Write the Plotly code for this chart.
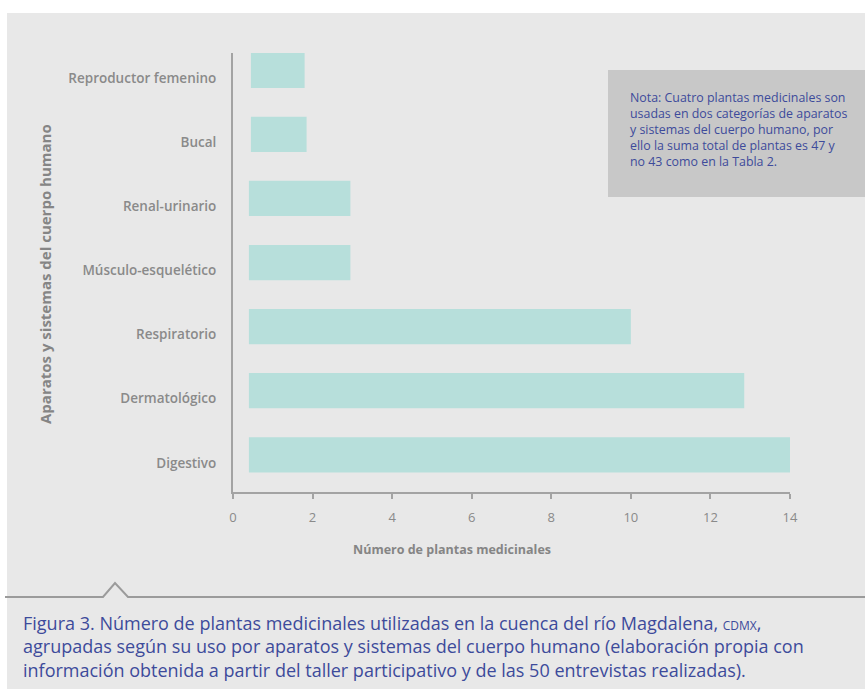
import plotly.graph_objects as go

# Categories, listed from the bottom of the chart to the top
categorias = ["Digestivo", "Dermatológico", "Respiratorio", "Músculo-esquelético",
              "Renal-urinario", "Bucal", "Reproductor femenino"]
# Number of medicinal plants (end of each bar)
num_plantas = [14, 12.85, 10, 2.95, 2.95, 1.85, 1.8]
# Bars start slightly to the right of zero
inicio_barra = [0.4, 0.4, 0.4, 0.4, 0.4, 0.45, 0.45]

x_ticks = [0, 2, 4, 6, 8, 10, 12, 14]

W, H = 865, 689
L, R, T, B = 233, 790, 53, 492  # plot area in pixels


def px(x):
    return (x - L) / (R - L)


def py(y):
    return (B - y) / (B - T)


GRIS_EJE = "#a3a3a3"
GRIS_TXT = "#8a8a8a"
AZUL = "#3d4b9b"

fig = go.Figure(
    go.Bar(
        y=categorias,
        x=[e - b for e, b in zip(num_plantas, inicio_barra)],
        base=inicio_barra,
        orientation="h",
        width=0.55,
        marker=dict(color="#b7dfdb", line=dict(width=0)),
        hoverinfo="skip",
    )
)

shapes = [
    # background panel
    dict(type="rect", xref="paper", yref="paper", layer="below",
         x0=px(7), x1=px(W + 5), y0=py(13), y1=py(H + 5),
         fillcolor="#e8e8e8", line=dict(width=0)),
    # note box
    dict(type="rect", xref="paper", yref="paper", layer="below",
         x0=px(608), x1=px(W + 5), y0=py(70), y1=py(197),
         fillcolor="#c8c8c8", line=dict(width=0)),
    # caption rule with pointer
    dict(type="path", xref="paper", yref="paper",
         path=(f"M {px(5)},{py(597)} L {px(103)},{py(597)} L {px(115)},{py(583)} "
               f"L {px(128)},{py(597)} L {px(W + 5)},{py(597)}"),
         line=dict(color="#9b9b9b", width=2)),
]

nota = ("Nota: Cuatro plantas medicinales son<br>"
        "usadas en dos categorías de aparatos<br>"
        "y sistemas del cuerpo humano, por<br>"
        "ello la suma total de plantas es 47 y<br>"
        "no 43 como en la Tabla 2.")

leyenda = ("Figura 3. Número de plantas medicinales utilizadas en la cuenca del río Magdalena, "
           "<span style='font-size:12px'>CDMX</span>,<br>"
           "agrupadas según su uso por aparatos y sistemas del cuerpo humano (elaboración propia con<br>"
           "información obtenida a partir del taller participativo y de las 50 entrevistas realizadas).")

annotations = [
    dict(text=nota, xref="paper", yref="paper", x=px(628), y=py(87),
         xanchor="left", yanchor="top", align="left", showarrow=False,
         font=dict(family="Open Sans", size=12.4, color=AZUL)),
    dict(text=leyenda, xref="paper", yref="paper", x=px(21), y=py(609),
         xanchor="left", yanchor="top", align="left", showarrow=False,
         font=dict(family="Open Sans", size=18, color=AZUL)),
    dict(text="Aparatos y sistemas del cuerpo humano", xref="paper", yref="paper",
         x=px(45), y=py(274), textangle=-90, showarrow=False,
         xanchor="center", yanchor="middle",
         font=dict(family="Open Sans", size=15, color="#858585", weight=700)),
    dict(text="Número de plantas medicinales", xref="paper", yref="paper",
         x=px(452), y=py(549), showarrow=False, xanchor="center", yanchor="middle",
         font=dict(family="Open Sans", size=12.5, color="#858585", weight=700)),
]

fig.update_layout(
    width=W, height=H,
    margin=dict(l=L, r=W - R, t=T, b=H - B, pad=0),
    paper_bgcolor="white",
    plot_bgcolor="rgba(0,0,0,0)",
    showlegend=False,
    shapes=shapes,
    annotations=annotations,
    xaxis=dict(range=[0, 14], tickvals=x_ticks, showgrid=False, zeroline=False,
               showline=True, linecolor=GRIS_EJE, linewidth=2,
               ticks="outside", ticklen=5, tickwidth=1.5, tickcolor=GRIS_EJE,
               ticklabelstandoff=7,
               tickfont=dict(family="Open Sans", size=13, color=GRIS_TXT)),
    yaxis=dict(type="category", categoryorder="array", categoryarray=categorias,
               range=[-0.58, 6.27], showgrid=False, zeroline=False,
               showline=True, linecolor=GRIS_EJE, linewidth=2, ticks="",
               ticklabelstandoff=12, ticklabelshift=8,
               tickfont=dict(family="Open Sans", size=13.5, color=GRIS_TXT, weight=600)),
)

fig.write_html("out.html")
